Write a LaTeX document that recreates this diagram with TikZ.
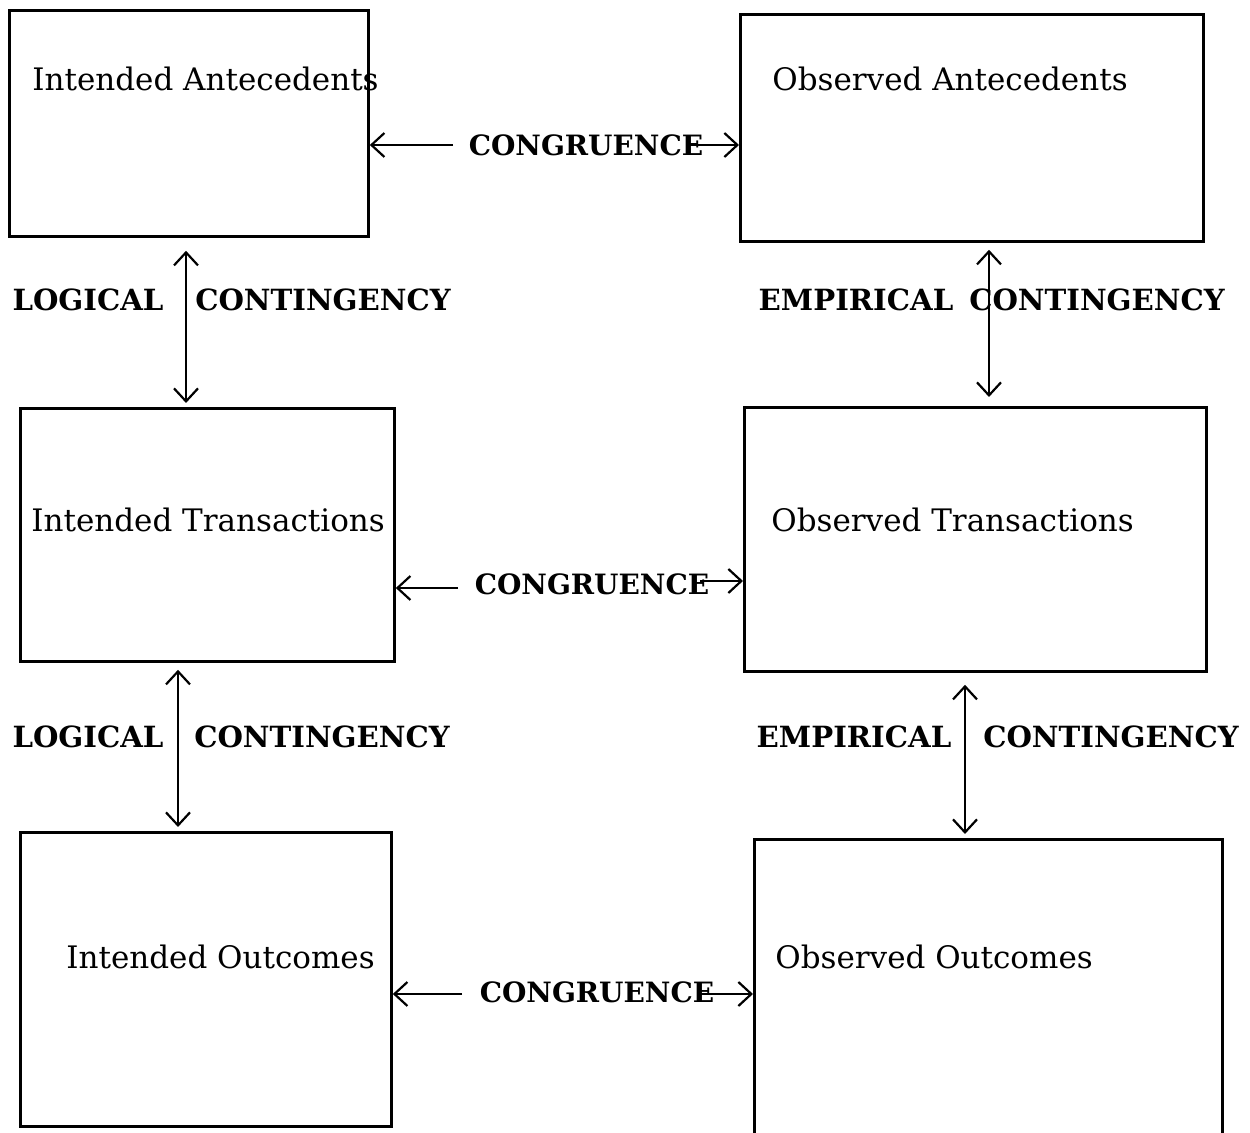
\documentclass[tikz,border=0pt]{standalone}
\usepackage{fontspec}
\setmainfont{DejaVu Serif}
\usetikzlibrary{arrows.meta}
\tikzset{
  box/.style={draw, line width=1.4pt, rectangle, inner sep=0pt},
  boxtext/.style={anchor=west, inner sep=0pt, font=\fontsize{15.5}{18}\selectfont},
  lbl/.style={inner sep=0pt, font=\fontsize{14.6}{17}\selectfont\bfseries},
  congr/.style={inner sep=0pt, font=\fontsize{14}{17}\selectfont\bfseries},
  conn/.style={line width=1.1pt, -{Straight Barb[length=6.5pt,width=12pt,line width=1.1pt]}},
  biconn/.style={line width=1.1pt, {Straight Barb[length=6.5pt,width=12pt,line width=1.1pt]}-{Straight Barb[length=6.5pt,width=12pt,line width=1.1pt]}}
}
\begin{document}
\begin{tikzpicture}[x=0.5pt,y=-0.5pt]
\useasboundingbox (0,0) rectangle (1250,1133);
\clip (0,0) rectangle (1250,1133);
% boxes
\node[box, minimum width=179.5pt, minimum height=113pt, anchor=north west] (ia) at (8,9) {};
\node[box, minimum width=231.5pt, minimum height=113.5pt, anchor=north west] (oa) at (739,13) {};
\node[box, minimum width=187pt, minimum height=126.5pt, anchor=north west] (it) at (19,407) {};
\node[box, minimum width=231pt, minimum height=132pt, anchor=north west] (ot) at (743,406) {};
\node[box, minimum width=185.5pt, minimum height=147pt, anchor=north west] (io) at (19,831) {};
\node[box, minimum width=234pt, minimum height=160pt, anchor=north west] (oo) at (753,838) {};
% box texts
\node[boxtext] (tia) at (32,79) {Intended Antecedents};
\node[boxtext] (toa) at (772,79) {Observed Antecedents};
\node[boxtext] (tit) at (31,520) {Intended Transactions};
\node[boxtext] (tot) at (771,520) {Observed Transactions};
\node[boxtext] (tio) at (66,957) {Intended Outcomes};
\node[boxtext] (too) at (775,957) {Observed Outcomes};
% congruence labels
\node[congr] (c1) at (586,145) {CONGRUENCE};
\node[congr] (c2) at (592,584) {CONGRUENCE};
\node[congr] (c3) at (597,992) {CONGRUENCE};
% contingency labels
\node[lbl] (l1a) at (88,300) {LOGICAL};
\node[lbl] (l1b) at (323,300) {CONTINGENCY};
\node[lbl] (e1a) at (856,300) {EMPIRICAL};
\node[lbl] (e1b) at (1097,300) {CONTINGENCY};
\node[lbl] (l2a) at (88,737) {LOGICAL};
\node[lbl] (l2b) at (322,737) {CONTINGENCY};
\node[lbl] (e2a) at (854,737) {EMPIRICAL};
\node[lbl] (e2b) at (1111,737) {CONTINGENCY};
% free ends of congruence arrows
\coordinate (c1l) at (453,145);
\coordinate (c1r) at (690,145);
\coordinate (c2l) at (458,588);
\coordinate (c2r) at (700,581);
\coordinate (c3l) at (462,994);
\coordinate (c3r) at (700,994);
\draw[conn] (c1l) -- (c1l -| ia.east);
\draw[conn] (c1r) -- (c1r -| oa.west);
\draw[conn] (c2l) -- (c2l -| it.east);
\draw[conn] (c2r) -- (c2r -| ot.west);
\draw[conn] (c3l) -- (c3l -| io.east);
\draw[conn] (c3r) -- (c3r -| oo.west);
% vertical arrows
\coordinate (x1) at (186,0);
\coordinate (x2) at (989,0);
\coordinate (x3) at (178,0);
\coordinate (x4) at (965,0);
\draw[biconn, shorten <=6.5pt, shorten >=2pt] (x1 |- ia.south) -- (x1 |- it.north);
\draw[biconn, shorten <=3.5pt, shorten >=4.5pt] (x2 |- oa.south) -- (x2 |- ot.north);
\draw[biconn, shorten <=3.5pt, shorten >=2pt] (x3 |- it.south) -- (x3 |- io.north);
\draw[biconn, shorten <=6pt, shorten >=2pt] (x4 |- ot.south) -- (x4 |- oo.north);
\end{tikzpicture}
\end{document}
